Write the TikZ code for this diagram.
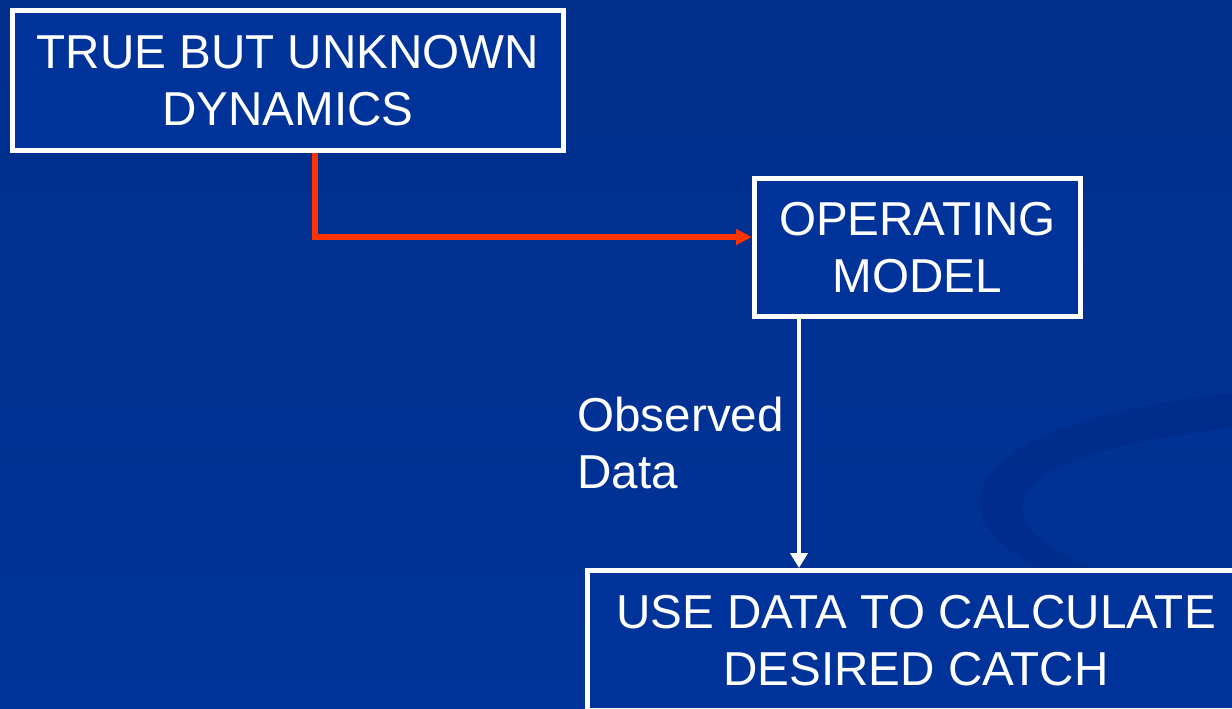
\documentclass[tikz,border=0pt]{standalone}
\usepackage{fontspec}
\setmainfont{Liberation Sans}
\usetikzlibrary{arrows.meta, positioning}
\definecolor{slideblue}{RGB}{0,51,153}
\definecolor{slidetop}{RGB}{0,47,140}
\definecolor{swoosh}{RGB}{0,44,138}
\definecolor{flowred}{RGB}{255,51,0}

\begin{document}
\begin{tikzpicture}[x=0.5pt, y=-0.5pt,
  boxnode/.style={draw=white, line width=2.5pt, fill=slideblue, text=white,
    align=center, inner sep=0pt, font=\fontsize{23.8}{28.5}\selectfont},
  redflow/.style={draw=flowred, line width=2.6pt,
    -{Triangle[length=8pt, width=7.5pt]}},
  whiteflow/.style={draw=white, line width=2.4pt,
    -{Triangle[length=7.5pt, width=8.5pt]}}]
  % Hintergrund mit leichtem Verlauf
  \shade[top color=slidetop, bottom color=slideblue] (0,0) rectangle (1232,708);
  \useasboundingbox (0,0) rectangle (1232,708);

  % Bogen rechts im Hintergrund
  \fill[swoosh, opacity=0.7] (1232,393) .. controls (1080,410) and (975,450) .. (980,507)
    .. controls (985,560) and (1100,600) .. (1232,625) -- (1232,612)
    .. controls (1110,585) and (1020,545) .. (1022,507)
    .. controls (1025,465) and (1120,440) .. (1232,428) -- cycle;

  % Die drei Kaesten
  \node[boxnode, minimum width=275.5pt, minimum height=70pt] (truedyn) at (288,80.5)
    {TRUE BUT UNKNOWN\\DYNAMICS};
  \node[boxnode, minimum width=163pt, minimum height=69pt] (opmodel) at (917.5,247.5)
    {OPERATING\\MODEL};
  \node[boxnode, minimum width=328.5pt, minimum height=70pt] (usedata) at (916,640.5)
    {USE DATA TO CALCULATE\\DESIRED CATCH};

  % Pfeile zwischen den Kaesten
  \coordinate (redbend) at (315,237);
  \coordinate (datadrop) at (799,0);
  \draw[redflow] (truedyn.south -| redbend) |- (opmodel.west |- redbend);
  \draw[whiteflow] (opmodel.south -| datadrop) -- (usedata.north -| datadrop);
  \node[text=white, align=left, anchor=west, inner sep=0pt,
    font=\fontsize{23.8}{28.5}\selectfont] (obsdata) at (577,443) {Observed\\Data};
\end{tikzpicture}
\end{document}
